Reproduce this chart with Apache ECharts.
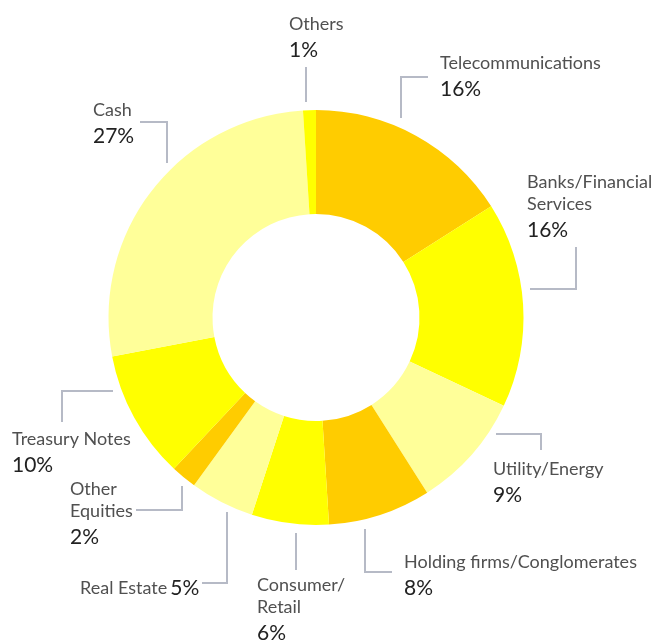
<!DOCTYPE html>
<html>
<head>
<meta charset="utf-8">
<script src="https://cdn.jsdelivr.net/npm/echarts@6/dist/echarts.min.js"></script>
<style>
html,body{margin:0;padding:0;background:#fff}
#main{width:652px;height:640px}
</style>
</head>
<body>
<div id="main"></div>
<script>
// data
var sectors = ['Telecommunications', 'Banks/Financial Services', 'Utility/Energy', 'Holding firms/Conglomerates',
    'Consumer/Retail', 'Real Estate', 'Other Equities', 'Treasury Notes', 'Cash', 'Others'];
var shares = [16, 16, 9, 8, 6, 5, 2, 10, 27, 1];
var labelText = ['Telecommunications', 'Banks/Financial\nServices', 'Utility/Energy', 'Holding firms/Conglomerates',
    'Consumer/\nRetail', 'Real Estate', 'Other\nEquities', 'Treasury Notes', 'Cash', 'Others'];

// styles / layout
var sliceColors = ['#FFCC00', '#FFFF00', '#FFFF99', '#FFCC00', '#FFFF00', '#FFFF99', '#FFCC00', '#FFFF00', '#FFFF99', '#FFFF00'];
var labelPos = [[440, 52], [527, 171], [493, 458], [404, 551], [257, 574], [80, 573], [70, 478], [12, 428], [93, 99], [289, 13]];
var leaders = [
    [[401, 118], [401, 77], [428, 77]],
    [[530, 289], [576, 289], [576, 247]],
    [[496, 434], [541, 434], [541, 450]],
    [[365, 529], [365, 572], [392, 572]],
    [[296, 533], [296, 570], [296, 570]],
    [[227, 512], [227, 583], [202, 583]],
    [[182, 486], [182, 510], [136, 510]],
    [[113, 391], [62, 391], [62, 422]],
    [[140, 122], [167, 122], [167, 163]],
    [[306, 67], [306, 102], [306, 102]]
];

var pieData = [];
for (var i = 0; i < sectors.length; i++) {
    pieData.push({ name: sectors[i], value: shares[i], itemStyle: { color: sliceColors[i] } });
}

var chart = echarts.init(document.getElementById('main'));
var option = {
    animation: false,
    backgroundColor: '#fff',
    series: [{
        type: 'pie',
        center: [316, 317.5],
        radius: [103.5, 207.5],
        startAngle: 90,
        clockwise: true,
        avoidLabelOverlap: false,
        silent: true,
        data: pieData,
        label: {
            show: true,
            position: 'outside',
            fontFamily: 'Lato',
            formatter: function (p) {
                var txt = labelText[p.dataIndex];
                if (p.name == 'Real Estate') {
                    return '{n|' + txt + '} {p|' + p.value + '%}';
                }
                return txt.split('\n').map(function (s) { return '{n|' + s + '}'; }).join('\n') + '\n{p|' + p.value + '%}';
            },
            rich: {
                n: { fontFamily: 'Lato', fontSize: 18, color: '#505050', lineHeight: 22 },
                p: { fontFamily: 'Lato', fontSize: 21, color: '#222', lineHeight: 30 }
            }
        },
        labelLine: {
            show: true,
            smooth: false,
            lineStyle: { color: '#b6bac6', width: 2 }
        },
        labelLayout: function (params) {
            var k = params.dataIndex;
            return {
                x: labelPos[k][0],
                y: labelPos[k][1],
                align: 'left',
                verticalAlign: 'top',
                labelLinePoints: leaders[k]
            };
        }
    }]
};
chart.setOption(option);
</script>
</body>
</html>
